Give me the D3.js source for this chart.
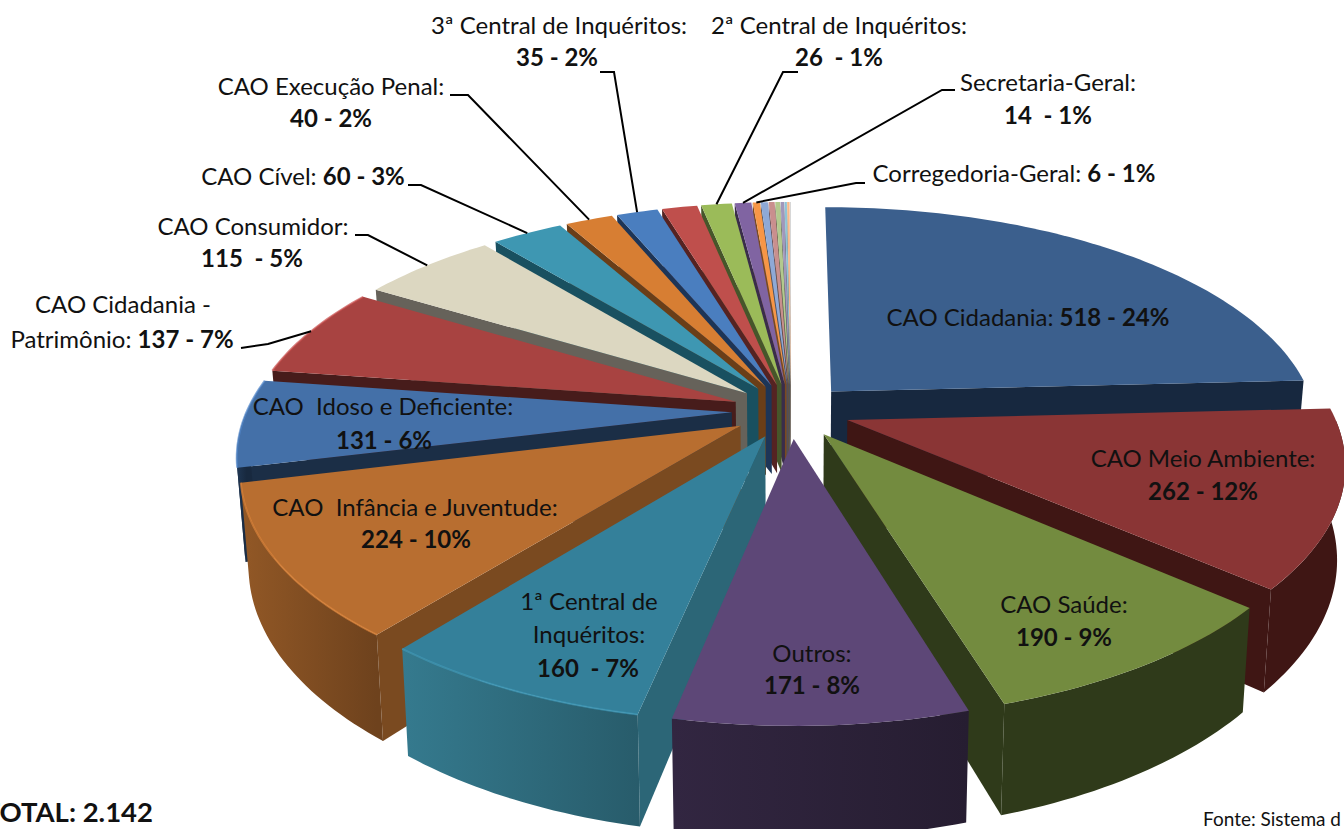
<!DOCTYPE html>
<html>
<head>
<meta charset="utf-8">
<script src="https://cdn.jsdelivr.net/npm/d3@7"></script>
<style>
  html, body { margin: 0; padding: 0; background: #fff; overflow: hidden; }
  svg { display: block; }
  text { font-family: Lato, "Open Sans", sans-serif; fill: #111; white-space: pre; }
</style>
</head>
<body>
<div id="chart"></div>
<script>
// values (tiny unlabelled slices are estimates)
const categories = [
  'CAO Cidadania:', 'CAO Meio Ambiente:', 'CAO Saúde:', 'Outros:', '1ª Central de Inquéritos:',
  'CAO  Infância e Juventude:', 'CAO  Idoso e Deficiente:', 'CAO Cidadania - Patrimônio:',
  'CAO Consumidor:', 'CAO Cível:', 'CAO Execução Penal:', '3ª Central de Inquéritos:', '',
  '2ª Central de Inquéritos:', 'Secretaria-Geral:', 'Corregedoria-Geral:',
  '', '', '', '', '', '', ''
];
const values = [518, 262, 190, 171, 160, 224, 131, 137, 115, 60, 40, 35, 30, 26, 14, 6, 6, 5, 4, 3, 2, 2, 1];
const percents = [24, 12, 9, 8, 7, 10, 6, 7, 5, 3, 2, 2, 1, 1, 1, 1, 0, 0, 0, 0, 0, 0, 0];
const totalLabel = 'TOTAL: 2.142';
const sourceLabel = 'Fonte: Sistema d';

const topColors = ['#3b5f8d', '#8a3535', '#738b3f', '#5d4777', '#34809a', '#b86e30', '#4470a8', '#a84341',
  '#dcd7c1', '#3e97b2', '#d77e33', '#4a7ebf', '#bf4f4c', '#9bbb59', '#8064a2', '#f79646',
  '#8ea9d6', '#c98f8e', '#b3c98d', '#a197bb', '#8fc4d6', '#f9b888', '#d5d5d5'];
const wallColors = ['#17283f', '#3f1614', '#2f3a1a', '#2a2036', '#2c6677', '#7a4a20', '#1b2e46', '#471c1b',
  '#66625a', '#195060', '#6a3e18', '#1d3557', '#552322', '#46562a', '#3a2d4a', '#7a4a20',
  '#46546a', '#644645', '#596446', '#504b5d', '#47616a', '#7c5c44', '#6a6a6a'];

const width = 1344, height = 829;
const svg = d3.select('#chart').append('svg').attr('width', width).attr('height', height);
const defs = svg.append('defs');

// fake 3d: ground plane units -1..1, perspective grows toward the viewer
const cx = 791, cy = 411;
const perspX = 0.175, perspY = 0.18, depth = 90, explode = 0.122;
const xScale = d3.scaleLinear().domain([-1, 1]).range([cx - 485, cx + 485]);
const yScale = d3.scaleLinear().domain([-1, 1]).range([cy - 224, cy + 224]);

function project(gx, gz, h) {
  const sx = 1 / (1 - perspX * gz), sy = 1 / (1 - perspY * gz);
  const conv = h ? 0.985 : 1;
  return [cx + (xScale(gx * sx) - cx) * conv, yScale(gz * sy) + h * sy];
}

const arcs = d3.pie().sort(null)(values).map((d, i) => {
  const mid = (d.startAngle + d.endAngle) / 2;
  return { i, a0: d.startAngle, a1: d.endAngle, mid, ox: explode * Math.sin(mid), oz: -explode * Math.cos(mid) };
});

const rim = (d, a, h) => project(d.ox + Math.sin(a), d.oz - Math.cos(a), h);
const apex = (d, h) => project(d.ox, d.oz, h);
const line = d3.line();

function arcPoints(d, a0, a1, h) {
  const n = Math.max(2, Math.ceil((a1 - a0) / 0.02));
  return d3.range(n + 1).map(k => rim(d, a0 + (a1 - a0) * k / n, h));
}

// back to front
const order = arcs.slice().sort((a, b) => Math.abs(b.mid - Math.PI) - Math.abs(a.mid - Math.PI));

const slices = svg.append('g').selectAll('g').data(order).enter().append('g');

slices.each(function(d) {
  const g = d3.select(this);
  const wall = wallColors[d.i];

  // radial wall that faces the viewer
  if (Math.sin(d.a0) < 0) {
    g.append('path').attr('fill', wall)
      .attr('d', line([apex(d, 0), rim(d, d.a0, 0), rim(d, d.a0, depth), apex(d, depth)]) + 'Z');
  }
  if (Math.sin(d.a1) > 0) {
    g.append('path').attr('fill', wall)
      .attr('d', line([apex(d, 0), rim(d, d.a1, 0), rim(d, d.a1, depth), apex(d, depth)]) + 'Z');
  }

  // outer wall, only the front half of the ring
  const from = Math.max(d.a0, Math.PI / 2), to = Math.min(d.a1, Math.PI * 1.5);
  if (to > from) {
    const top = arcPoints(d, from, to, 0), bottom = arcPoints(d, from, to, depth).reverse();
    let fill = wall;
    if (d.mid > Math.PI * 0.95) {
      const id = 'outer' + d.i;
      const xs = top.map(p => p[0]);
      const grad = defs.append('linearGradient').attr('id', id).attr('gradientUnits', 'userSpaceOnUse')
        .attr('x1', d3.min(xs)).attr('x2', d3.max(xs)).attr('y1', 0).attr('y2', 0);
      grad.append('stop').attr('offset', 0).attr('stop-color', d3.rgb(wall).brighter(0.5));
      grad.append('stop').attr('offset', 1).attr('stop-color', d3.rgb(wall).darker(0.3));
      fill = `url(#${id})`;
    }
    g.append('path').attr('fill', fill).attr('d', line(top.concat(bottom)) + 'Z');
  }

  // top face
  g.append('path').attr('fill', topColors[d.i])
    .attr('d', line([apex(d, 0)].concat(arcPoints(d, d.a0, d.a1, 0))) + 'Z');

  // light bevel along the rim
  if (d.i > 3 && d.i < 8) {
    g.append('path').attr('fill', 'none').attr('stroke', d3.rgb(topColors[d.i]).brighter(0.5))
      .attr('stroke-width', 2).attr('stroke-opacity', 0.7)
      .attr('d', line(arcPoints(d, d.a0, d.a1, 0)));
  }
});

// leader lines end on the slice rim at its middle angle
const leaders = [
  { i: 7, pts: [[241, 348], [268, 344]] },
  { i: 8, pts: [[355, 235], [368, 235]] },
  { i: 9, pts: [[408, 185], [421, 185]] },
  { i: 10, pts: [[450, 95], [468, 95]] },
  { i: 11, pts: [[600, 72], [614, 72]] },
  { i: 13, pts: [[798, 72], [783, 72]] },
  { i: 14, pts: [[955, 90], [942, 90]] },
  { i: 15, pts: [[865, 183], [856, 183]] }
];
svg.append('g').selectAll('path').data(leaders).enter().append('path')
  .attr('fill', 'none').attr('stroke', '#000').attr('stroke-width', 2)
  .attr('d', d => line(d.pts.concat([rim(arcs[d.i], arcs[d.i].mid, 0)])));

// label rows: [x, y, anchor, plain, bold]
const valueText = (i, gap = ' ') => `${values[i]}${gap}- ${percents[i]}%`;
const labelRows = [
  [1028, 326, 'middle', categories[0] + ' ', valueText(0)],
  [1203, 467, 'middle', categories[1], ''],
  [1203, 500, 'middle', '', valueText(1)],
  [1064, 613, 'middle', categories[2], ''],
  [1064, 646, 'middle', '', valueText(2)],
  [812, 662, 'middle', categories[3], ''],
  [812, 694, 'middle', '', valueText(3)],
  [589, 610, 'middle', '1ª Central de', ''],
  [589, 643, 'middle', 'Inquéritos:', ''],
  [588, 677, 'middle', '', valueText(4, '  ')],
  [415, 516, 'middle', categories[5], ''],
  [416, 548, 'middle', '', valueText(5)],
  [383, 415, 'middle', categories[6], ''],
  [384, 449, 'middle', '', valueText(6)],
  [123, 313, 'middle', 'CAO Cidadania -', ''],
  [122, 348, 'middle', 'Patrimônio: ', valueText(7)],
  [253, 235, 'middle', categories[8], ''],
  [252, 267, 'middle', '', valueText(8, '  ')],
  [303, 185, 'middle', categories[9] + ' ', valueText(9)],
  [331, 95, 'middle', categories[10], ''],
  [331, 127, 'middle', '', valueText(10)],
  [559, 34, 'middle', categories[11], ''],
  [557, 66, 'middle', '', valueText(11)],
  [839, 34, 'middle', categories[13], ''],
  [839, 66, 'middle', '', valueText(13, '  ')],
  [1048, 91, 'middle', categories[14], ''],
  [1048, 124, 'middle', '', valueText(14, '  ')],
  [1014, 182, 'middle', categories[15] + ' ', valueText(15)]
];

const labels = svg.append('g').attr('font-size', 24).selectAll('text').data(labelRows).enter().append('text')
  .attr('x', d => d[0]).attr('y', d => d[1]).attr('text-anchor', d => d[2]);
labels.append('tspan').text(d => d[3]);
labels.append('tspan').attr('font-weight', 700).text(d => d[4]);

svg.append('text').attr('x', 153).attr('y', 822).attr('text-anchor', 'end')
  .attr('font-size', 27.5).attr('font-weight', 700).text(totalLabel);
svg.append('text').attr('x', 1203).attr('y', 826).attr('font-size', 19).text(sourceLabel);
</script>
</body>
</html>
